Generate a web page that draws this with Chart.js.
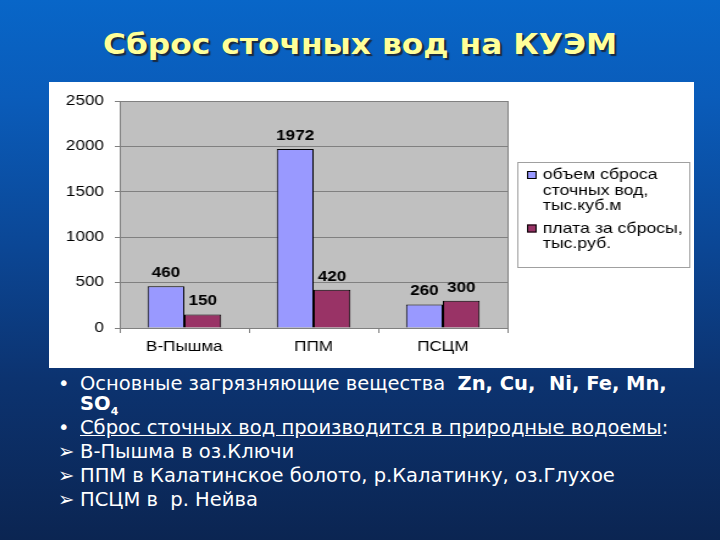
<!DOCTYPE html>
<html>
<head>
<meta charset="utf-8">
<script src="https://cdn.jsdelivr.net/npm/chart.js@4.4.0/dist/chart.umd.min.js"></script>
<style>
  html, body { margin: 0; padding: 0; }
  body {
    width: 720px; height: 540px; overflow: hidden; position: relative;
    background: linear-gradient(180deg, #0866c8 0%, #0a5cba 18%, #0b4796 45%, #0c3370 70%, #0b2552 100%);
    font-family: "DejaVu Sans", sans-serif;
  }
  #title {
    position: absolute; left: 0; top: 27px; width: 720px; text-align: center;
    color: #ffff99; font: bold 29px "DejaVu Sans", sans-serif;
    text-shadow: 2px 2px 1px #1a2a40;
    transform: scaleX(1.08);
  }
  #panel {
    position: absolute; left: 49px; top: 82px; width: 645px; height: 286px; background: #fff;
  }
  #chart { width: 645px; height: 286px; display: block; }
  #notes {
    position: absolute; left: 0; top: 371px; width: 720px; color: #fff;
    font: 19.5px "DejaVu Sans", sans-serif;
  }
  .row { position: absolute; left: 80px; white-space: nowrap; }
  .mark { position: absolute; left: -22px; }
  .u { text-decoration: underline; }
  b { font-weight: bold; }
</style>
</head>
<body>
<div id="title">Сброс сточных вод на КУЭМ</div>
<div id="panel"><canvas id="chart" width="529" height="286" style="width:645px;height:286px"></canvas></div>
<div id="notes">
  <div class="row" style="top:1px"><span class="mark">•</span>Основные загрязняющие вещества &nbsp;<b>Zn, Cu, &nbsp;Ni, Fe, Mn,</b></div>
  <div class="row" style="top:21px"><b>SO<sub style="font-size:11px">4</sub></b></div>
  <div class="row" style="top:45px"><span class="mark">•</span><span class="u">Сброс сточных вод производится в природные водоемы</span>:</div>
  <div class="row" style="top:69px"><span class="mark">➢</span>В-Пышма в оз.Ключи</div>
  <div class="row" style="top:93px"><span class="mark">➢</span>ППМ в Калатинское болото, р.Калатинку, оз.Глухое</div>
  <div class="row" style="top:117px"><span class="mark">➢</span>ПСЦМ в &nbsp;р. Нейва</div>
</div>
<script>
const categories = ['В-Пышма', 'ППМ', 'ПСЦМ'];
const volumeValues = [460, 1972, 260];
const paymentValues = [150, 420, 300];
const volumeLabel = ['объем сброса', 'сточных вод,', 'тыс.куб.м'];
const paymentLabel = ['плата за сбросы,', 'тыс.руб.'];
const yTicks = [0, 500, 1000, 1500, 2000, 2500];

const FONT = "'Liberation Sans', Arial, sans-serif";

// gray plot background + right border
const plotBg = {
    id: 'plotBg',
    beforeDraw(chart) {
        const { ctx, chartArea: a } = chart;
        ctx.save();
        ctx.fillStyle = '#c0c0c0';
        ctx.fillRect(a.left, a.top, a.right - a.left, a.bottom - a.top);
        ctx.restore();
    },
    afterDraw(chart) {
        const { ctx, chartArea: a } = chart;
        ctx.save();
        ctx.strokeStyle = '#808080';
        ctx.lineWidth = 1;
        ctx.beginPath();
        ctx.moveTo(Math.round(a.right) + 0.5, a.top);
        ctx.lineTo(Math.round(a.right) + 0.5, a.bottom);
        ctx.stroke();
        ctx.restore();
    }
};

const valueLabels = {
    id: 'valueLabels',
    afterDatasetsDraw(chart) {
        const ctx = chart.ctx;
        ctx.save();
        ctx.font = 'bold 14px ' + FONT;
        ctx.fillStyle = '#000';
        ctx.textAlign = 'center';
        ctx.textBaseline = 'bottom';
        chart.data.datasets.forEach((ds, i) => {
            chart.getDatasetMeta(i).data.forEach((bar, j) => {
                ctx.fillText(ds.data[j], bar.x, bar.y - 6);
            });
        });
        ctx.restore();
    }
};

const boxLegend = {
    id: 'boxLegend',
    afterDraw(chart) {
        const ctx = chart.ctx;
        const x = 384, y = 80, w = 141, h = 105;
        ctx.save();
        ctx.strokeStyle = '#a0a0a0';
        ctx.lineWidth = 1;
        ctx.strokeRect(x + 0.5, y + 0.5, w, h);
        ctx.font = '14.5px ' + FONT;
        ctx.textBaseline = 'middle';
        let ty = y + 13;
        chart.data.datasets.forEach((ds) => {
            ctx.fillStyle = ds.backgroundColor;
            ctx.fillRect(x + 8, ty - 4, 8, 8);
            ctx.strokeStyle = '#000';
            ctx.strokeRect(x + 8.5, ty - 3.5, 7, 7);
            ctx.fillStyle = '#000';
            ds.legendLines.forEach((line) => {
                ctx.fillText(line, x + 21, ty);
                ty += 15.5;
            });
            ty += 7;
        });
        ctx.restore();
    }
};

new Chart(document.getElementById('chart'), {
    type: 'bar',
    data: {
        labels: categories,
        datasets: [{
            label: volumeLabel.join(' '),
            legendLines: volumeLabel,
            data: volumeValues,
            backgroundColor: '#9999ff',
            borderColor: '#000',
            borderWidth: 1,
            barPercentage: 1,
            categoryPercentage: 0.57
        }, {
            label: paymentLabel.join(' '),
            legendLines: paymentLabel,
            data: paymentValues,
            backgroundColor: '#993366',
            borderColor: '#000',
            borderWidth: 1,
            barPercentage: 1,
            categoryPercentage: 0.57
        }]
    },
    options: {
        responsive: false,
        animation: false,
        layout: { padding: { top: 19, right: 153, bottom: 0, left: 0 } },
        plugins: {
            legend: { display: false },
            tooltip: { enabled: false }
        },
        scales: {
            x: {
                grid: { offset: true, drawOnChartArea: false, tickLength: 5, color: '#808080' },
                border: { color: '#808080' },
                ticks: { color: '#000', font: { family: FONT, size: 14 }, padding: 6 },
                afterFit(s) { s.height = 40; }
            },
            y: {
                min: 0,
                max: 2500,
                afterBuildTicks(s) { s.ticks = yTicks.map(v => ({ value: v })); },
                grid: { color: '#808080', tickLength: 4 },
                border: { color: '#808080' },
                ticks: { color: '#000', font: { family: FONT, size: 14 }, padding: 9, callback: v => String(v) },
                afterFit(s) { s.width = 58; }
            }
        }
    },
    plugins: [plotBg, valueLabels, boxLegend]
});
</script>
</body>
</html>
